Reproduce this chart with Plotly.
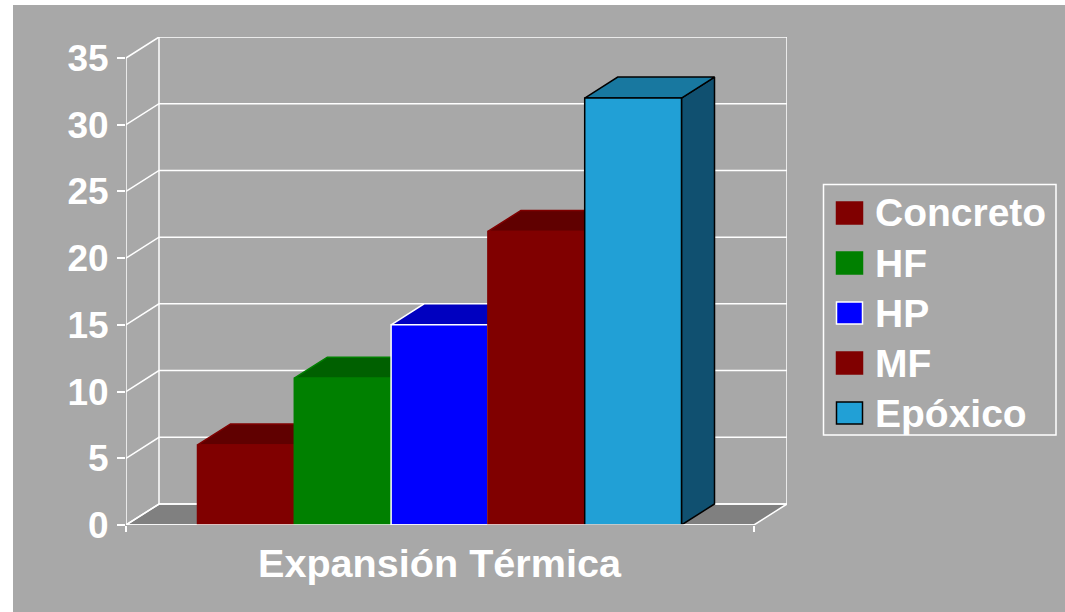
import plotly.graph_objects as go

# ---- data ----
categories = ["Concreto", "HF", "HP", "MF", "Epóxico"]
values = [6, 11, 15, 22, 32]
y_ticks = [0, 5, 10, 15, 20, 25, 30, 35]
front_colors = ["#800000", "#008000", "#0000FF", "#800000", "#21A0D6"]
top_colors = ["#600000", "#006000", "#0000C0", "#600000", "#1878A0"]
side_colors = ["#400000", "#004000", "#000080", "#400000", "#105070"]
edge_colors = ["#800000", "#008000", "#FFFFFF", "#800000", "#000000"]
axis_title = "Expansión Térmica"

# ---- style / geometry ----
W, H = 1065, 612
L, R, T, B = 126, 754, 58, 525        # front plane in pixels
DEPTH_X, DEPTH_Y = 33, 21             # pixels
BAR_W_PX = 96.8
UNIT_PX = (B - T) / 35
X_MIN = -0.5 - 71.5 / BAR_W_PX
X_MAX = X_MIN + (R - L) / BAR_W_PX
Y_MAX = 35
DX = DEPTH_X / BAR_W_PX               # depth in x units
DY = DEPTH_Y / UNIT_PX                # depth in y units
PLOT_R, PLOT_T = R + DEPTH_X, T - DEPTH_Y
WHITE = "#FFFFFF"
BG = "#A8A8A8"
FONT = "Liberation Sans"


def px(x):
    return (x - L) / (PLOT_R - L)


def py(y):
    return (B - y) / (B - PLOT_T)


def poly(xs, ys, fill=None, line=WHITE, width=1.5):
    return go.Scatter(
        x=xs, y=ys, mode="lines", cliponaxis=False, hoverinfo="skip",
        showlegend=False, fill="toself" if fill else None,
        fillcolor=fill, line=dict(color=line, width=width),
    )


fig = go.Figure()

# floor
fig.add_trace(poly([X_MIN, X_MAX, X_MAX + DX, X_MIN + DX, X_MIN],
                   [0, 0, DY, DY, 0], fill="#808080"))
# walls: back gridlines with their side-wall diagonals
for v in y_ticks:
    fig.add_trace(poly([X_MIN, X_MIN + DX, X_MAX + DX], [v, v + DY, v + DY]))
fig.add_trace(poly([X_MIN + DX, X_MIN + DX], [DY, Y_MAX + DY]))
fig.add_trace(poly([X_MAX + DX, X_MAX + DX], [DY, Y_MAX + DY]))
# front value axis stops at the front plane
fig.add_trace(poly([X_MIN, X_MIN], [0, Y_MAX]))

# 3-D bars, in drawing order
for i, v in enumerate(values):
    x0, x1 = i - 0.5, i + 0.5
    w = 1.5
    fig.add_trace(poly([x1, x1 + DX, x1 + DX, x1, x1], [0, DY, v + DY, v, 0],
                       fill=side_colors[i], line=edge_colors[i], width=w))
    fig.add_trace(poly([x0, x1, x1 + DX, x0 + DX, x0], [v, v, v + DY, v + DY, v],
                       fill=top_colors[i], line=edge_colors[i], width=w))
    fig.add_trace(poly([x0, x1, x1, x0, x0], [0, 0, v, v, 0],
                       fill=front_colors[i], line=edge_colors[i], width=w))

# front category axis runs along the foot of the bars
fig.add_trace(poly([X_MIN, X_MAX], [0, 0]))

shapes = [
    dict(type="rect", xref="paper", yref="paper", layer="below",
         x0=px(13), x1=px(W + 5), y0=py(5), y1=py(H + 5),
         fillcolor=BG, line=dict(width=0)),
    dict(type="rect", xref="paper", yref="paper", layer="above",
         x0=px(823.5), x1=px(1056), y0=py(184.5), y1=py(435),
         fillcolor="rgba(0,0,0,0)", line=dict(color=WHITE, width=1.5)),
]
annotations = [
    dict(text=axis_title, xref="x", yref="paper", x=(X_MIN + X_MAX) / 2, y=py(563),
         xanchor="center", yanchor="middle", showarrow=False,
         font=dict(family=FONT, size=39.6, color=WHITE, weight=700)),
]
for i, name in enumerate(categories):
    cy = 213 + 50 * i
    shapes.append(dict(type="rect", xref="paper", yref="paper", layer="above",
                       x0=px(836.5), x1=px(862.5), y0=py(cy - 11), y1=py(cy + 11),
                       fillcolor=front_colors[i],
                       line=dict(color=edge_colors[i], width=1.5)))
    annotations.append(dict(text=name, xref="paper", yref="paper", x=px(872.5), y=py(cy),
                            xanchor="left", yanchor="middle", showarrow=False,
                            font=dict(family=FONT, size=39, color=WHITE, weight=700)))

fig.update_layout(
    width=W, height=H, autosize=False,
    margin=dict(l=L, r=W - PLOT_R, t=PLOT_T, b=H - B, pad=0),
    paper_bgcolor=WHITE, plot_bgcolor="rgba(0,0,0,0)",
    showlegend=False, shapes=shapes, annotations=annotations,
    xaxis=dict(range=[X_MIN, X_MAX + DX], tickmode="array", tickvals=[X_MIN, X_MAX],
               ticktext=["", ""], ticks="outside", ticklen=6, tickwidth=1.5,
               tickcolor=WHITE, showgrid=False, zeroline=False, showline=False),
    yaxis=dict(range=[0, Y_MAX + DY], tickmode="array", tickvals=y_ticks,
               ticks="outside", ticklen=8, tickwidth=1.5, tickcolor=WHITE,
               showgrid=False, zeroline=False, showline=False, ticklabelstandoff=1,
               tickfont=dict(family=FONT, size=37, color=WHITE, weight=700)),
)

fig.write_html("out.html", config={"displayModeBar": False},
               post_script="document.body.style.margin='0';")
